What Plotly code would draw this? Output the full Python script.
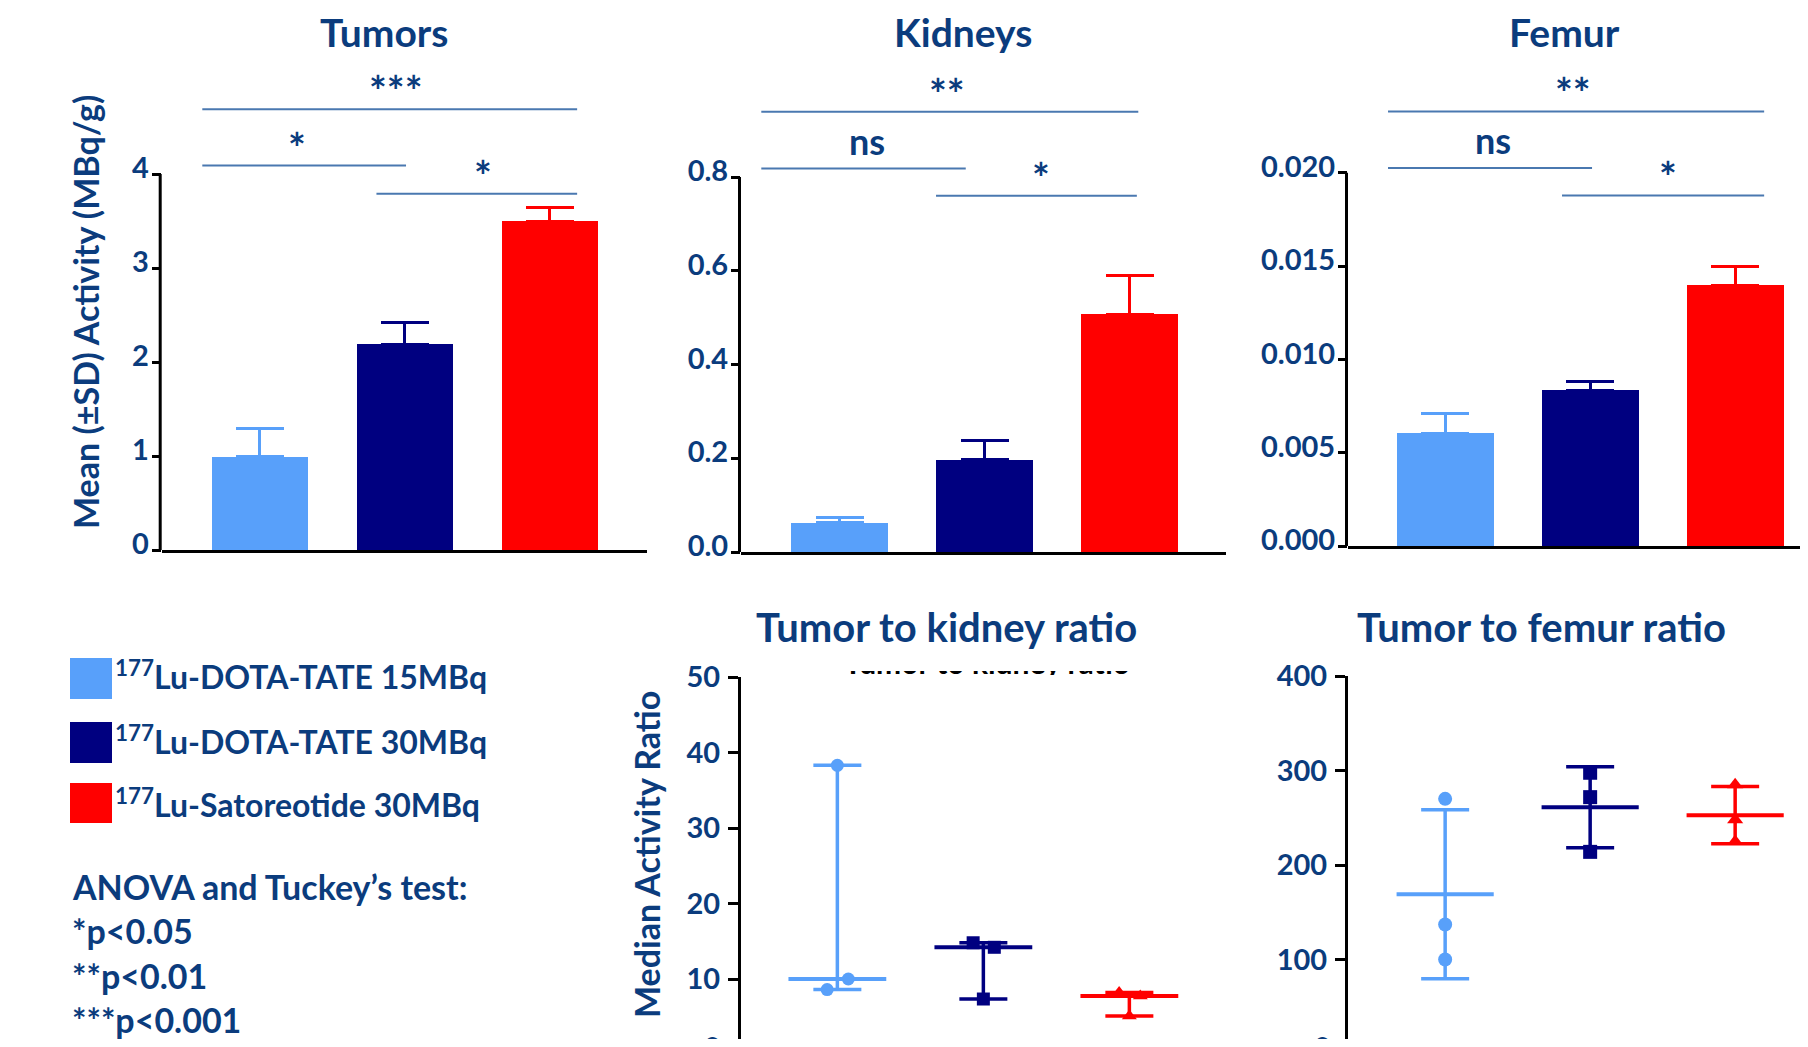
import numpy as np
import plotly.graph_objects as go

# target page is 1808x1047; the browser body keeps an 8px margin, so the
# figure is made 16px smaller and every position is planned in page pixels.
PAGE_W, PAGE_H = 1808, 1047
OFF = 8
FW, FH = PAGE_W - 2 * OFF, PAGE_H - 2 * OFF

# ---------------- data ----------------
groups = ["<sup>177</sup>Lu-DOTA-TATE 15MBq",
          "<sup>177</sup>Lu-DOTA-TATE 30MBq",
          "<sup>177</sup>Lu-Satoreotide 30MBq"]
group_colors = ["#58a0fa", "#000080", "#ff0000"]

tumor_mean = [0.99, 2.19, 3.50]
tumor_sd = [0.30, 0.23, 0.14]
kidney_mean = [0.062, 0.197, 0.507]
kidney_sd = [0.012, 0.041, 0.082]
femur_mean = [0.00603, 0.00835, 0.01397]
femur_sd = [0.00105, 0.00044, 0.00100]

kidney_ratio = [[38.3, 10.0, 8.6], [14.8, 14.2, 7.35], [8.2, 7.75, 5.1]]
femur_ratio = [[270, 137, 100], [297.6, 271.8, 213.9], [285, 248, 225]]

tumor_ticks = [0, 1, 2, 3, 4]
kidney_ticks = [0.0, 0.2, 0.4, 0.6, 0.8]
femur_ticks = [0.000, 0.005, 0.010, 0.015, 0.020]
kratio_ticks = [10, 20, 30, 40, 50]
fratio_ticks = [100, 200, 300, 400]

# significance brackets: label, x-from, x-to, level (data units), label x
tumor_sig = [("***", -0.395, 2.19, 4.69, 0.94), ("*", -0.395, 1.01, 4.09, 0.26),
             ("*", 0.806, 2.19, 3.79, 1.54)]
kidney_sig = [("**", -0.54, 2.06, 0.939, 0.74), ("ns", -0.54, 0.87, 0.818, 0.19),
              ("*", 0.665, 2.05, 0.760, 1.39)]
femur_sig = [("**", -0.394, 2.20, 0.02328, 0.88), ("ns", -0.394, 1.013, 0.02025, 0.33),
             ("*", 0.806, 2.20, 0.01878, 1.54)]

stats_lines = ["ANOVA and Tuckey\u2019s test:", "*p<0.05", "**p<0.01", "***p<0.001"]
clipped_caption = "Tumor to kidney ratio"

# ---------------- styles ----------------
TXT = "#0b3c7d"
SIG = "#4a78b0"
FONT = "Lato"
kidney_ratio_offsets = [[0, 0.075, -0.07], [-0.07, 0.075, 0], [-0.07, 0.075, 0]]
ratio_symbols = ["circle", "square", "triangle-up"]


def fx(px):
    return min(max((px - OFF) / FW, 0.0), 1.0)


def fy(py):
    return 1 - (py - OFF) / FH


fig = go.Figure()

base_x = dict(showgrid=False, zeroline=False, showticklabels=False, ticks="",
              fixedrange=True, automargin=False)
base_y = dict(showgrid=False, zeroline=False, ticks="outside", tickwidth=3,
              tickcolor="black", fixedrange=True, automargin=False,
              tickfont=dict(family=FONT, size=29, color=TXT, weight="bold"))

layout = dict(
    width=FW, height=FH, margin=dict(l=0, r=0, t=0, b=0, pad=0),
    plot_bgcolor="white", paper_bgcolor="white", showlegend=False,
    bargap=0,
)

SPACING = 145.0
TOP_PX = 66
# top panels: suffix, axis px, right px, zero px, top-tick px, x0, means, sds, ticks, fmt, sig, title, title x
top_panels = [
    ("", 161.7, 647, 550, 174, -0.675, tumor_mean, tumor_sd, tumor_ticks, "d", tumor_sig,
     "Tumors", 384),
    ("2", 741, 1226, 552, 177, -0.68, kidney_mean, kidney_sd, kidney_ticks, ".1f", kidney_sig,
     "Kidneys", 963),
    ("3", 1348, 1808, 546, 172.7, -0.67, femur_mean, femur_sd, femur_ticks, ".3f", femur_sig,
     "Femur", 1564),
]
annotations = []
shapes = []

for (suf, left, right, bot, toptick, x0, means, sds, ticks, fmt, sig, title, tx) in top_panels:
    right = min(right, PAGE_W - OFF)
    ymax = ticks[-1] * (bot - TOP_PX) / (bot - toptick)
    x1 = x0 + (right - left) / SPACING
    layout["xaxis" + suf] = dict(base_x, domain=[fx(left), fx(right)], range=[x0, x1],
                                 showline=True, linecolor="black", linewidth=3,
                                 anchor="y" + suf)
    layout["yaxis" + suf] = dict(base_y, domain=[fy(bot), fy(TOP_PX)], range=[0, ymax],
                                 tickvals=ticks, tickformat=fmt, showline=False,
                                 ticklen=9, ticklabelstandoff=-3, ticklabelshift=-6,
                                 anchor="x" + suf)
    for i in range(3):
        fig.add_trace(go.Bar(
            x=[i], y=[means[i]], width=0.667, xaxis="x" + suf, yaxis="y" + suf,
            marker=dict(color=group_colors[i], line=dict(width=0)),
            error_y=dict(type="data", symmetric=False, array=[sds[i]], arrayminus=[0],
                         color=group_colors[i], thickness=3, width=24),
            hoverinfo="skip"))
    # y-axis line only up to the top tick
    shapes.append(dict(type="line", xref="paper", yref="y" + suf,
                       x0=fx(left - 1.5), x1=fx(left - 1.5), y0=0, y1=ticks[-1],
                       line=dict(color="black", width=3)))
    for lab, sx0, sx1, lev, lx in sig:
        shapes.append(dict(type="line", xref="x" + suf, yref="y" + suf,
                           x0=sx0, x1=sx1, y0=lev, y1=lev,
                           line=dict(color=SIG, width=2)))
        star = "*" in lab
        annotations.append(dict(xref="x" + suf, yref="y" + suf, x=lx, y=lev,
                                text=lab, showarrow=False, yanchor="bottom",
                                yshift=(-9 if star else 4),
                                font=dict(family=FONT, size=(42 if star else 36),
                                          color=TXT, weight="bold")))
    annotations.append(dict(xref="paper", yref="paper", x=fx(tx), y=fy(32), text=title,
                            showarrow=False, xanchor="center", yanchor="middle",
                            font=dict(family=FONT, size=39, color=TXT, weight="bold")))

# bottom panels: suffix, left, right, top-tick px, top tick, low-tick px, low tick,
#                data, ticks, stat, x0, spacing, marker size, title, title x, "0" x
bottom_panels = [
    ("4", 741, 1240, 677, 50, 979, 10, kidney_ratio, kratio_ticks, "median", -0.66, 146.0,
     13, "Tumor to kidney ratio", 946, 712),
    ("5", 1348, 1808, 676, 400, 959.5, 100, femur_ratio, fratio_ticks, "mean", -0.67, 145.0,
     14, "Tumor to femur ratio", 1541, 1322),
]
BOTTOM_PX = PAGE_H - OFF
for (suf, left, right, tpx, tval, lpx, lval, data, ticks, stat, x0, sp, msize,
     title, tcx, zero_x) in bottom_panels:
    right = min(right, PAGE_W - OFF)
    per_unit = (lpx - tpx) / (tval - lval)
    ymin = lval - (BOTTOM_PX - lpx) / per_unit
    x1 = x0 + (right - left) / sp
    layout["xaxis" + suf] = dict(base_x, domain=[fx(left), fx(right)], range=[x0, x1],
                                 showline=False, anchor="y" + suf)
    layout["yaxis" + suf] = dict(base_y, domain=[0, fy(tpx)], range=[ymin, tval],
                                 tickvals=ticks, showline=True, linecolor="black",
                                 linewidth=3, ticklen=10, ticklabelstandoff=2,
                                 anchor="x" + suf)
    for i in range(3):
        vals = np.array(data[i], dtype=float)
        c = group_colors[i]
        if stat == "median":
            center = float(np.median(vals))
            hi, lo = vals.max() - center, center - vals.min()
            xs = [i + o for o in kidney_ratio_offsets[i]]
        else:
            center = float(vals.mean())
            sd = float(vals.std(ddof=1))
            hi, lo = sd, sd
            xs = [i] * len(vals)
        fig.add_trace(go.Scatter(
            x=[i], y=[center], mode="markers", xaxis="x" + suf, yaxis="y" + suf,
            marker=dict(size=1, color="rgba(0,0,0,0)"),
            error_y=dict(type="data", symmetric=False, array=[hi], arrayminus=[lo],
                         color=c, thickness=3.5, width=24),
            hoverinfo="skip"))
        fig.add_trace(go.Scatter(
            x=[i - 0.335, i + 0.335], y=[center, center], mode="lines",
            xaxis="x" + suf, yaxis="y" + suf, line=dict(color=c, width=4),
            hoverinfo="skip"))
        fig.add_trace(go.Scatter(
            x=xs, y=vals, mode="markers", xaxis="x" + suf, yaxis="y" + suf,
            marker=dict(symbol=ratio_symbols[i], size=msize, color=c, line=dict(width=0)),
            cliponaxis=False, hoverinfo="skip"))
    annotations.append(dict(xref="paper", yref="paper", x=fx(tcx), y=fy(627), text=title,
                            showarrow=False, xanchor="center", yanchor="middle",
                            font=dict(family=FONT, size=40, color=TXT, weight="bold")))
    # the cut-off "0" tick label at the bottom edge
    annotations.append(dict(xref="paper", yref="paper", x=fx(zero_x), y=fy(1046),
                            text="0", showarrow=False, xanchor="center", yanchor="middle",
                            font=dict(family=FONT, size=29, color=TXT, weight="bold")))

# clipped black caption strip above the kidney-ratio panel (only its foot shows)
layout["xaxis6"] = dict(visible=False, domain=[fx(824), fx(1150)], range=[0, 1],
                        fixedrange=True, anchor="y6")
layout["yaxis6"] = dict(visible=False, domain=[fy(675), fy(671)], range=[0, 1],
                        fixedrange=True, anchor="x6")
fig.add_trace(go.Scatter(x=[0.5], y=[-1.5], mode="text", text=[clipped_caption],
                         textposition="top center", cliponaxis=True,
                         textfont=dict(family=FONT, size=30, color="black", weight="bold"),
                         xaxis="x6", yaxis="y6", hoverinfo="skip"))

# axis titles
annotations.append(dict(xref="paper", yref="paper", x=fx(86), y=fy(312),
                        text="Mean (\u00b1SD) Activity (MBq/g)", textangle=-90,
                        showarrow=False, xanchor="center", yanchor="middle",
                        font=dict(family=FONT, size=34, color=TXT, weight="bold")))
annotations.append(dict(xref="paper", yref="paper", x=fx(646), y=fy(855),
                        text="Median Activity Ratio", textangle=-90,
                        showarrow=False, xanchor="center", yanchor="middle",
                        font=dict(family=FONT, size=34, color=TXT, weight="bold")))

# legend (squares + labels)
legend_rows = [(658, 699, 675), (722, 763, 740), (783, 823, 803)]
for (t, b, cy), lab, c in zip(legend_rows, groups, group_colors):
    shapes.append(dict(type="rect", xref="paper", yref="paper", x0=fx(70), x1=fx(112),
                       y0=fy(b), y1=fy(t), fillcolor=c, line=dict(width=0)))
    annotations.append(dict(xref="paper", yref="paper", x=fx(113), y=fy(cy), text=lab,
                            showarrow=False, xanchor="left", yanchor="middle",
                            font=dict(family=FONT, size=32, color=TXT, weight="bold")))

for k, line in enumerate(stats_lines):
    annotations.append(dict(xref="paper", yref="paper", x=fx(70), y=fy(886 + 44.5 * k),
                            text=line, showarrow=False, xanchor="left", yanchor="middle",
                            font=dict(family=FONT, size=34, color=TXT, weight="bold")))

layout["annotations"] = annotations
layout["shapes"] = shapes
fig.update_layout(**layout)
fig.write_html("out.html")
